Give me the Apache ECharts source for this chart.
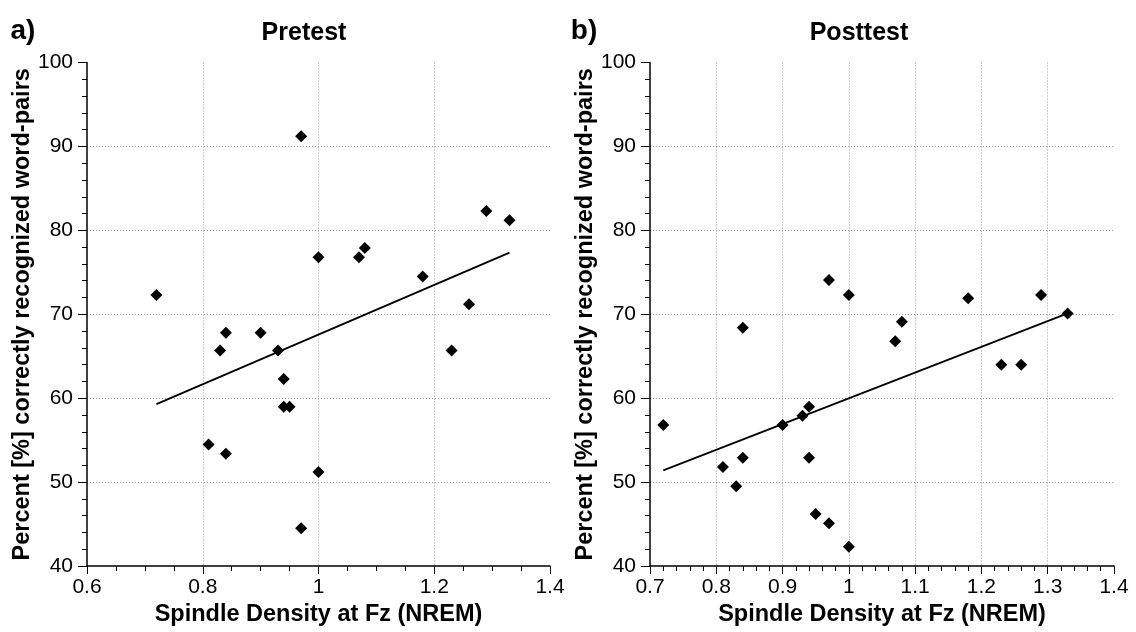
<!DOCTYPE html>
<html>
<head>
<meta charset="utf-8">
<script src="https://cdn.jsdelivr.net/npm/echarts@6/dist/echarts.min.js"></script>
<style>
  html, body { margin: 0; padding: 0; background: #fff; }
  #chart { width: 1136px; height: 632px; }
</style>
</head>
<body>
<div id="chart"></div>
<script>
// spindle density (x) for both panels, same subjects
var densityPre = [0.72, 0.81, 0.83, 0.84, 0.84, 0.90, 0.93, 0.94, 0.94, 0.95, 0.97, 0.97, 1.00, 1.00, 1.07, 1.08, 1.18, 1.23, 1.26, 1.29, 1.33];
var recallPre = [72.3, 54.5, 65.7, 67.8, 53.4, 67.8, 65.7, 62.3, 59.0, 59.0, 91.2, 44.5, 76.8, 51.2, 76.8, 77.9, 74.5, 65.7, 71.2, 82.3, 81.2];
var densityPost = [0.72, 0.81, 0.83, 0.84, 0.84, 0.90, 0.93, 0.94, 0.94, 0.95, 0.97, 0.97, 1.00, 1.00, 1.07, 1.08, 1.18, 1.23, 1.26, 1.29, 1.33];
var recallPost = [56.8, 51.8, 49.5, 68.4, 52.9, 56.8, 57.9, 59.0, 52.9, 46.2, 74.1, 45.1, 72.3, 42.3, 66.8, 69.1, 71.9, 64.0, 64.0, 72.3, 70.1];
// regression lines, start and end
var fitPreX = [0.72, 1.33];
var fitPreY = [59.3, 77.35];
var fitPostX = [0.72, 1.33];
var fitPostY = [51.4, 70.1];
// texts
var panelTitles = ["Pretest", "Posttest"];
var panelLetters = ["a)", "b)"];
var xName = "Spindle Density at Fz (NREM)";
var yName = "Percent [%] correctly recognized word-pairs";

var FONT = "Liberation Sans, Arial, sans-serif";
var GRID_LINE = {type: [1, 2], color: "#9a9a9a", width: 1};

function pairs(xs, ys){
	var out = [];
	for(var i = 0; i < xs.length; i++){
		out.push([xs[i], ys[i]]);
	}
	return out;
}

function make_x(grid, min, interval, minorSplit){
	return {
		gridIndex: grid, type: "value", min: min, max: 1.4, interval: interval,
		name: xName, nameLocation: "middle", nameGap: 35,
		nameTextStyle: {fontFamily: FONT, fontSize: 23.5, fontWeight: "bold", color: "#000"},
		axisLine: {show: true, onZero: false, lineStyle: {color: "#000", width: 1.5}},
		axisTick: {show: true, length: 8, lineStyle: {color: "#000", width: 1}},
		minorTick: {show: true, splitNumber: minorSplit, length: 5, lineStyle: {color: "#000", width: 1}},
		axisLabel: {fontFamily: FONT, fontSize: 21, color: "#000", margin: 11},
		splitLine: {show: true, showMinLine: false, showMaxLine: false, lineStyle: GRID_LINE}
	};
}

function make_y(grid){
	return {
		gridIndex: grid, type: "value", min: 40, max: 100, interval: 10,
		name: yName, nameLocation: "middle", nameGap: 52,
		nameTextStyle: {fontFamily: FONT, fontSize: 23.5, fontWeight: "bold", color: "#000"},
		axisLine: {show: true, onZero: false, lineStyle: {color: "#000", width: 1.5}},
		axisTick: {show: true, length: 9, lineStyle: {color: "#000", width: 1}},
		minorTick: {show: true, splitNumber: 5, length: 5, lineStyle: {color: "#000", width: 1}},
		axisLabel: {fontFamily: FONT, fontSize: 21, color: "#000", margin: 14},
		splitLine: {show: true, showMinLine: false, showMaxLine: false, lineStyle: GRID_LINE}
	};
}

function scatter(idx, data){
	// scatter is 0.8 opaque by default, the markers here are solid black
	return {type: "scatter", xAxisIndex: idx, yAxisIndex: idx, data: data,
		symbol: "diamond", symbolSize: 12, itemStyle: {color: "#000", opacity: 1}, z: 3};
}

function fit(idx, data){
	return {type: "line", xAxisIndex: idx, yAxisIndex: idx, data: data,
		showSymbol: false, symbol: "none", lineStyle: {color: "#000", width: 1.8}, z: 2};
}

function label(text, x, y, size){
	return {type: "text", x: x, y: y,
		style: {text: text, font: "bold " + size + "px " + FONT, fill: "#000", align: "center", verticalAlign: "top"}};
}

var chart = echarts.init(document.getElementById("chart"));
chart.setOption({
	animation: false,
	backgroundColor: "#fff",
	grid: [
		{left: 87, right: 586, top: 62.5, bottom: 61.5},
		{left: 650, right: 22, top: 62.5, bottom: 61.5}
	],
	xAxis: [make_x(0, 0.6, 0.2, 4), make_x(1, 0.7, 0.1, 5)],
	yAxis: [make_y(0), make_y(1)],
	graphic: [
		label(panelLetters[0], 23, 17, 28),
		label(panelLetters[1], 584, 17, 28),
		label(panelTitles[0], 304, 21, 25),
		label(panelTitles[1], 859, 21, 25)
	],
	series: [
		fit(0, pairs(fitPreX, fitPreY)),
		scatter(0, pairs(densityPre, recallPre)),
		fit(1, pairs(fitPostX, fitPostY)),
		scatter(1, pairs(densityPost, recallPost))
	]
});
</script>
</body>
</html>
